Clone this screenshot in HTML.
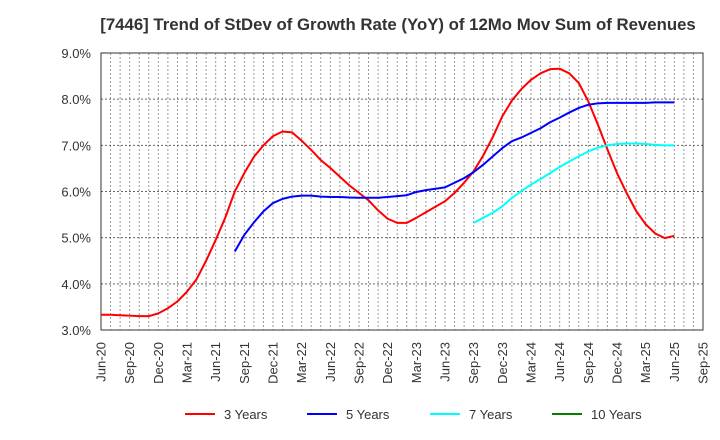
<!DOCTYPE html>
<html><head><meta charset="utf-8"><style>
body{margin:0;background:#fff;}
svg{display:block;font-family:"Liberation Sans",Arial,sans-serif;}
</style></head><body>
<svg id="c" width="720" height="440"></svg>
<script>
const xLabels=["Jun-20","Sep-20","Dec-20","Mar-21","Jun-21","Sep-21","Dec-21","Mar-22","Jun-22","Sep-22","Dec-22","Mar-23","Jun-23","Sep-23","Dec-23","Mar-24","Jun-24","Sep-24","Dec-24","Mar-25","Jun-25","Sep-25"];
const yTicks=[3,4,5,6,7,8,9];
const s3Start=0;
const s3=[3.33,3.33,3.32,3.31,3.30,3.30,3.36,3.47,3.62,3.83,4.1,4.5,4.95,5.43,6.0,6.4,6.75,7.0,7.2,7.3,7.28,7.1,6.9,6.68,6.51,6.32,6.13,5.97,5.81,5.59,5.41,5.32,5.32,5.43,5.55,5.67,5.79,5.97,6.19,6.44,6.78,7.18,7.63,7.97,8.22,8.42,8.56,8.65,8.66,8.56,8.35,7.95,7.45,6.91,6.40,5.97,5.58,5.29,5.09,4.99,5.04];
const s5Start=14;
const s5=[4.70,5.06,5.33,5.57,5.75,5.84,5.89,5.91,5.91,5.89,5.88,5.88,5.87,5.865,5.865,5.865,5.88,5.90,5.92,5.99,6.03,6.06,6.09,6.19,6.29,6.42,6.58,6.76,6.94,7.09,7.17,7.27,7.37,7.50,7.60,7.71,7.81,7.88,7.91,7.92,7.92,7.92,7.92,7.92,7.93,7.93,7.93];
const s7Start=39;
const s7=[5.32,5.43,5.54,5.68,5.86,6.01,6.15,6.27,6.40,6.53,6.65,6.76,6.87,6.95,7.00,7.03,7.04,7.04,7.03,7.01,7.0,7.0];
const s10Start=0;
const s10=[];
const NS="http://www.w3.org/2000/svg";
const svg=document.getElementById('c');
const L=101,R=703,T=53,B=330,months=63;
const x=m=>L+(R-L)*m/months;
const y=v=>B-(v-3)/6*(B-T);
function el(t,a,p){const e=document.createElementNS(NS,t);for(const k in a)e.setAttribute(k,a[k]);(p||svg).appendChild(e);return e;}
const title=el('text',{x:398,y:30,'text-anchor':'middle','font-size':16.8,'font-weight':'bold',fill:'#333'});
title.textContent="[7446]  Trend of StDev of Growth Rate (YoY) of 12Mo Mov Sum of Revenues";


for(let m=1;m<months;m++){const g=el('line',{x1:x(m),x2:x(m),y1:T,y2:B,stroke:'#999','stroke-dasharray':'2,2','stroke-width':1});

}
yTicks.forEach(v=>{if(v>3&&v<9){const g=el('line',{x1:L,x2:R,y1:y(v),y2:y(v),stroke:'#666','stroke-dasharray':'2,2','stroke-width':1});

}
const t=el('text',{x:91,y:y(v)+5,'text-anchor':'end','font-size':13,fill:'#333'});t.textContent=v.toFixed(1)+'%';

});
const fr=el('rect',{x:L,y:T,width:R-L,height:B-T,fill:'none',stroke:'#333','stroke-width':1});


xLabels.forEach((lb,i)=>{const xx=x(i*3);const t=el('text',{transform:`translate(${xx+4.5},342) rotate(-90)`,'text-anchor':'end','font-size':13,fill:'#333'});t.textContent=lb;

});
function series(d,st,col,name){if(!d.length)return;const p=d.map((v,i)=>x(st+i)+','+y(v)).join(' ');
const e=el('polyline',{points:p,fill:'none',stroke:col,'stroke-width':2,'stroke-linejoin':'round'});

}
series(s3,s3Start,'#ff0000','series-3-years');
series(s5,s5Start,'#0000ff','series-5-years');
series(s7,s7Start,'#00ffff','series-7-years');
series(s10,s10Start,'#008000','series-10-years');
[['3 Years','#ff0000',185],['5 Years','#0000ff',307],['7 Years','#00ffff',430],['10 Years','#008000',552]].forEach(([n,c,lx])=>{
const g=el('g',{});


el('line',{x1:lx,x2:lx+30,y1:414,y2:414,stroke:c,'stroke-width':2},g);
const t=el('text',{x:lx+39,y:419,'font-size':13,fill:'#333'},g);t.textContent=n;});
</script>
</body></html>
